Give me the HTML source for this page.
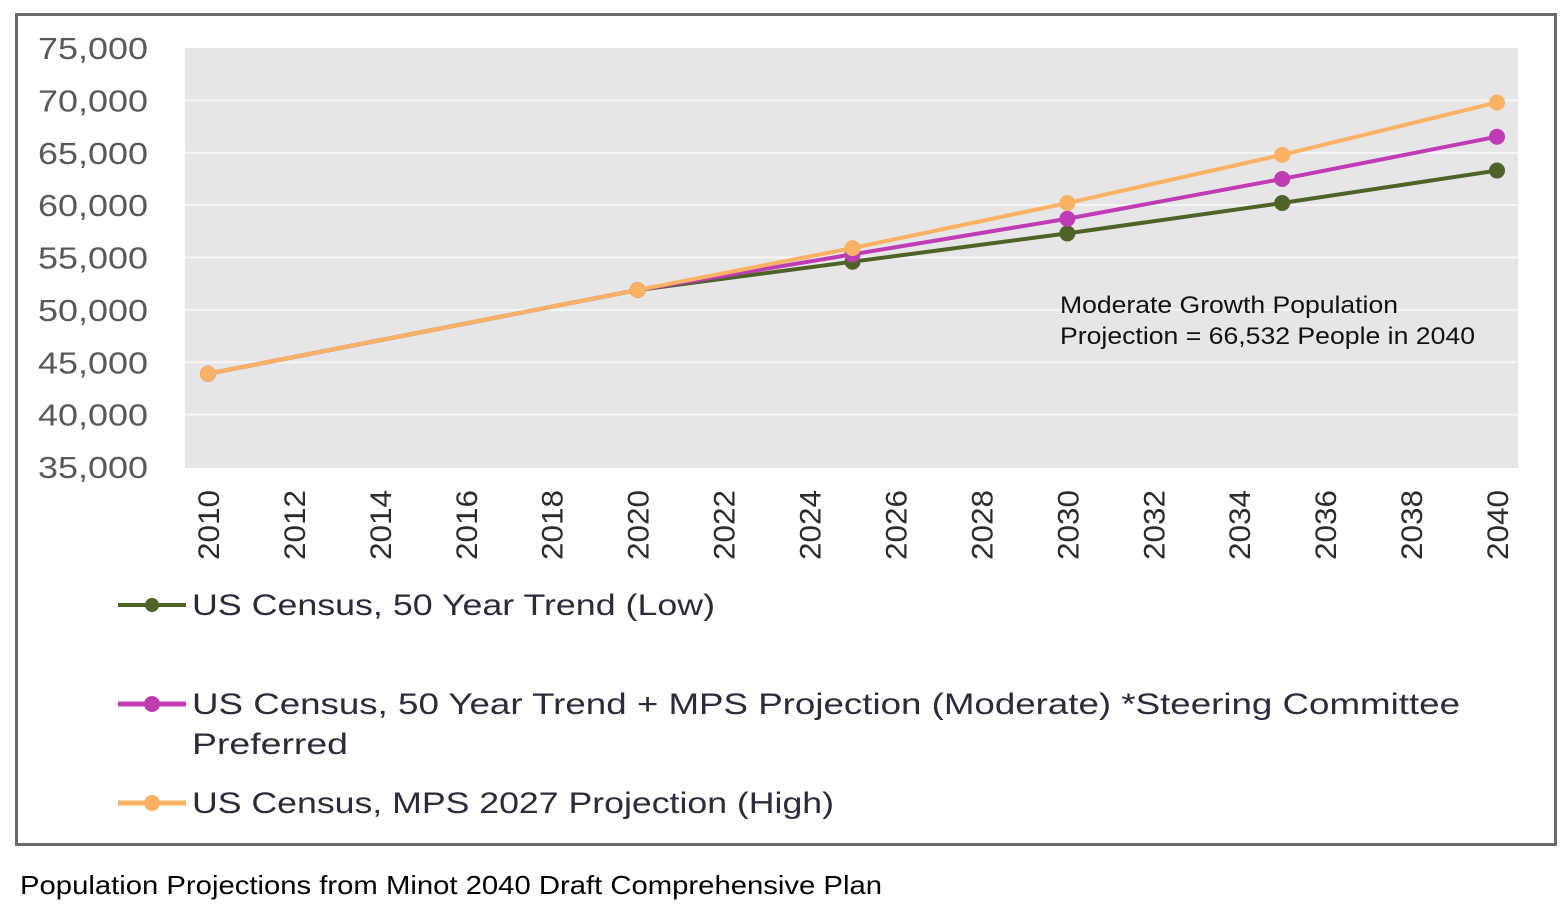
<!DOCTYPE html>
<html><head><meta charset="utf-8"><style>
body{margin:0;background:#fff;width:1566px;height:912px;overflow:hidden;font-family:"Liberation Sans",sans-serif}
</style></head><body>
<svg width="1566" height="912">
<rect x="16.5" y="14.5" width="1539" height="830" fill="#fff" stroke="#6b6b6b" stroke-width="3"/>
<rect x="185" y="48" width="1333" height="420" fill="#e7e6e6"/>
<g id="grid"></g><g id="yt"></g><g id="xt"></g><g id="series"></g>
<text x="1060" y="313" font-size="24" fill="#111" textLength="338" lengthAdjust="spacingAndGlyphs">Moderate Growth Population</text>
<text x="1060" y="344" font-size="24" fill="#111" textLength="415" lengthAdjust="spacingAndGlyphs">Projection = 66,532 People in 2040</text>
<g font-size="30" fill="#2b2b3a">
<line x1="118" y1="605" x2="186" y2="605" stroke="#4f6228" stroke-width="4"/><circle cx="152" cy="605" r="7" fill="#4f6228"/>
<text x="192" y="615" textLength="523" lengthAdjust="spacingAndGlyphs">US Census, 50 Year Trend (Low)</text>
<line x1="118" y1="704" x2="186" y2="704" stroke="#c03cb5" stroke-width="5"/><circle cx="152" cy="704" r="8" fill="#c03cb5"/>
<text x="192" y="714" textLength="1268" lengthAdjust="spacingAndGlyphs">US Census, 50 Year Trend + MPS Projection (Moderate) *Steering Committee</text>
<text x="192" y="754" textLength="156" lengthAdjust="spacingAndGlyphs">Preferred</text>
<line x1="118" y1="803" x2="186" y2="803" stroke="#fbb163" stroke-width="5"/><circle cx="152" cy="803" r="8" fill="#fbb163"/>
<text x="192" y="813" textLength="642" lengthAdjust="spacingAndGlyphs">US Census, MPS 2027 Projection (High)</text>
</g>
<text x="20" y="894" font-size="26" fill="#000" textLength="862" lengthAdjust="spacingAndGlyphs">Population Projections from Minot 2040 Draft Comprehensive Plan</text>
</svg>
<script>
const years=[2010,2020,2025,2030,2035,2040];
const lowVals=[43900,51900,54600,57300,60200,63300];
const modVals=[43900,51900,55300,58700,62500,66532];
const highVals=[43900,51900,55900,60200,64800,69800];
const yTicks=[35000,40000,45000,50000,55000,60000,65000,70000,75000];
const xTicks=[2010,2012,2014,2016,2018,2020,2022,2024,2026,2028,2030,2032,2034,2036,2038,2040];
const NS="http://www.w3.org/2000/svg";
const X=v=>208+(v-2010)*(1497-208)/30;
const Y=v=>467-(v-35000)*(419/40000);
function mk(t,a,p){const e=document.createElementNS(NS,t);for(const k in a)e.setAttribute(k,a[k]);p.appendChild(e);return e;}
const g=document.getElementById('grid'),yt=document.getElementById('yt'),xt=document.getElementById('xt'),s=document.getElementById('series');
yTicks.forEach(v=>{
 if(v>35000&&v<75000){const l=mk('line',{x1:185,x2:1518,y1:Y(v),y2:Y(v),stroke:'#f6f6f6','stroke-width':2},g);
 
 }
 const t=mk('text',{x:148,y:Y(v)+11,'text-anchor':'end','font-size':31,fill:'#595959',textLength:110,lengthAdjust:'spacingAndGlyphs'},yt);
 t.textContent=v.toLocaleString('en-US');
 
 
});
xTicks.forEach(v=>{
 const t=mk('text',{x:0,y:0,transform:`translate(${X(v)+11},490) rotate(-90)`,'text-anchor':'end','font-size':30,fill:'#2b2b2b',textLength:70,lengthAdjust:'spacingAndGlyphs'},xt);
 t.textContent=v;
 
 
});
[[lowVals,'#4f6228','low'],[modVals,'#c03cb5','moderate'],[highVals,'#fbb163','high']].forEach(([vals,c,n])=>{
 const p=mk('polyline',{points:vals.map((v,i)=>X(years[i])+','+Y(v)).join(' '),fill:'none',stroke:c,'stroke-width':4},s);
 
 
 vals.forEach((v,i)=>{const m=mk('circle',{cx:X(years[i]),cy:Y(v),r:8,fill:c},s);
 
 });
});
</script>
</body></html>
